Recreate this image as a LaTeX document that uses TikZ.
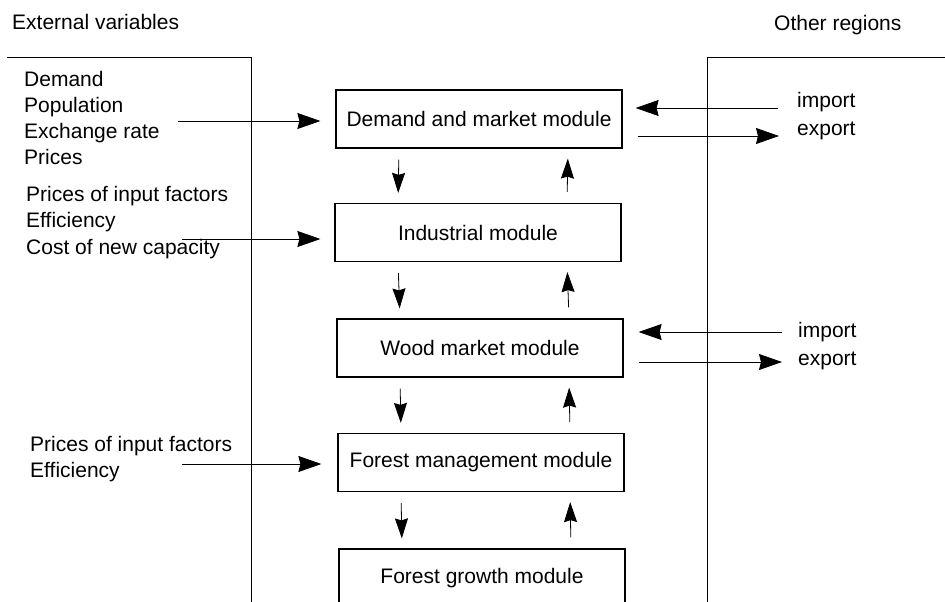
\documentclass[tikz,border=0pt]{standalone}
\usepackage{fontspec}
\setmainfont{Liberation Sans}
\usepackage{tikz}
\usetikzlibrary{arrows.meta,positioning}
\tikzset{font=\fontsize{21}{26}\selectfont}
\tikzset{module/.style={draw,line width=1.2pt,minimum width=286pt,minimum height=58pt,inner sep=0pt}}
\tikzset{flow/.style={line width=0.8pt,-{Stealth[length=23pt,width=16pt,inset=2pt]}}}
\tikzset{vflow/.style={line width=0.8pt,-{Stealth[length=20pt,width=13pt,inset=2pt]},
    shorten <=11pt,shorten >=10pt}}
\tikzset{var/.style={anchor=base west,inner sep=0pt}}

\begin{document}
\begin{tikzpicture}[x=1pt,y=-1pt]
  \clip (0,0) rectangle (945,602);
  % the two outer panels
  \draw[line width=0.8pt] (7,57) -- (251,57) -- (251,602);
  \draw[line width=0.8pt] (945,57) -- (707,57) -- (707,602);
  \node[var] (extvars) at (12,30) {External variables};
  \node[var] (regions) at (774,31) {Other regions};
  % modules
  \node[module] (dem)  at (479,119)   {Demand and market module};
  \node[module] (ind)  at (478,232.5) {Industrial module};
  \node[module] (wood) at (480,348)   {Wood market module};
  \node[module] (man)  at (481,462.5) {Forest management module};
  \node[module] (gro)  at (482,578)   {Forest growth module};
  \foreach \a/\b in {dem/ind,ind/wood,wood/man,man/gro}{
    \draw[vflow] ([xshift=-80pt]\a.south) -- ([xshift=-80pt]\b.north);
    \draw[vflow] ([xshift=89pt]\b.north) -- ([xshift=89pt]\a.south);
  }
  % external variables
  \foreach \t [count=\i] in {Demand,Population,Exchange rate,Prices}
    \node[var] (demvar\i) at (24,{86+26.3*(\i-1)}) {\t};
  \foreach \t [count=\i] in {Prices of input factors,Efficiency,Cost of new capacity}
    \node[var] (indvar\i) at (26,{201+26.5*(\i-1)}) {\t};
  \foreach \t [count=\i] in {Prices of input factors,Efficiency}
    \node[var] (manvar\i) at (30,{451+26*(\i-1)}) {\t};
  \coordinate (dem-in) at (178,121);
  \coordinate (ind-in) at (182,239);
  \coordinate (man-in) at (182,464);
  \draw[flow,shorten >=15pt] (dem-in) -- (dem-in -| dem.west);
  \draw[flow,shorten >=14pt] (ind-in) -- (ind-in -| ind.west);
  \draw[flow,shorten >=16pt] (man-in) -- (man-in -| man.west);
  % trade with other regions
  \node[var] (demimp) at (797,107) {import};
  \node[var] (demexp) at (797,135) {export};
  \node[var] (woodimp) at (798,337) {import};
  \node[var] (woodexp) at (798,365) {export};
  \coordinate (dem-imp) at (778,108);
  \coordinate (dem-exp) at (779,136);
  \coordinate (wood-imp) at (782,332);
  \coordinate (wood-exp) at (782,362);
  \draw[flow,shorten >=13pt] (dem-imp) -- (dem-imp -| dem.east);
  \draw[flow,shorten <=15pt] (dem-exp -| dem.east) -- (dem-exp);
  \draw[flow,shorten >=15pt] (wood-imp) -- (wood-imp -| wood.east);
  \draw[flow,shorten <=15pt] (wood-exp -| wood.east) -- (wood-exp);
\end{tikzpicture}
\end{document}
